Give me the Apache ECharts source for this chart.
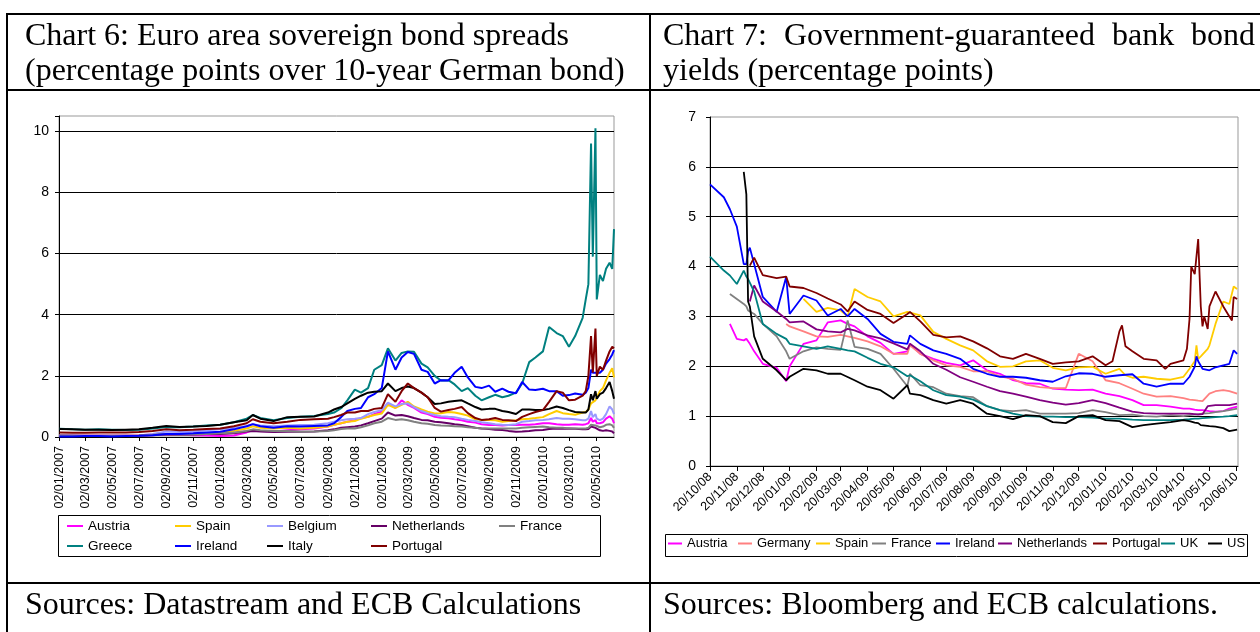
<!DOCTYPE html>
<html><head><meta charset="utf-8">
<script src="https://cdn.jsdelivr.net/npm/echarts@6/dist/echarts.min.js"></script>
<style>html,body{margin:0;padding:0;background:#fff}#c{width:1260px;height:632px}</style>
</head><body><div id="c"></div>
<script>
// ---------------- Chart 6 data: spreads over 10y Bund (pp) ----------------
const dates6 = [
 '2007-01-02','2007-02-01','2007-03-01','2007-04-01','2007-05-01','2007-06-01','2007-07-01','2007-08-01','2007-09-01','2007-10-01','2007-11-01','2007-12-01',
 '2008-01-01','2008-02-01','2008-03-01','2008-03-15','2008-04-01','2008-05-01','2008-06-01','2008-07-01','2008-08-01','2008-09-01','2008-09-15','2008-10-01','2008-10-15','2008-11-01','2008-11-15','2008-12-01','2008-12-15',
 '2009-01-01','2009-01-15','2009-02-01','2009-02-15','2009-03-01','2009-03-15','2009-04-01','2009-04-15','2009-05-01','2009-05-15','2009-06-01','2009-06-15','2009-07-01','2009-07-15','2009-08-01','2009-08-15','2009-09-01','2009-09-15','2009-10-01','2009-10-15','2009-11-01','2009-11-15','2009-12-01','2009-12-15',
 '2010-01-01','2010-01-15','2010-02-01','2010-02-15','2010-03-01','2010-03-15','2010-04-01','2010-04-08','2010-04-14','2010-04-20','2010-04-24','2010-04-30','2010-05-03','2010-05-10','2010-05-17','2010-05-24','2010-06-01','2010-06-07','2010-06-11'
];
const ticks6 = ['2007-01-02','2007-03-02','2007-05-02','2007-07-02','2007-09-02','2007-11-02','2008-01-02','2008-03-02','2008-05-02','2008-07-02','2008-09-02','2008-11-02','2009-01-02','2009-03-02','2009-05-02','2009-07-02','2009-09-02','2009-11-02','2010-01-02','2010-03-02','2010-05-02'];
const yTicks6 = [0, 2, 4, 6, 8, 10];

const austria6 = [
 0.06,0.05,0.05,0.05,0.05,0.05,0.06,0.08,0.10,0.08,0.06,0.05,
 0.03,0.05,0.15,0.22,0.20,0.18,0.22,0.25,0.28,0.34,0.40,0.45,0.50,0.55,0.62,0.66,0.75,
 0.83,1.10,0.95,1.20,1.05,0.95,0.80,0.75,0.66,0.63,0.61,0.58,0.55,0.50,0.47,0.42,0.39,0.39,0.38,0.39,0.39,0.40,0.40,0.42,
 0.45,0.45,0.42,0.40,0.40,0.42,0.40,0.42,0.45,0.62,0.50,0.55,0.45,0.45,0.48,0.60,0.68,0.60,0.45];
const spain6 = [
 0.04,0.04,0.04,0.04,0.04,0.04,0.05,0.07,0.10,0.10,0.10,0.12,
 0.15,0.20,0.28,0.35,0.30,0.28,0.30,0.28,0.30,0.34,0.40,0.45,0.50,0.52,0.60,0.66,0.72,
 0.77,1.05,0.95,1.05,1.15,1.00,0.90,0.83,0.77,0.78,0.82,0.80,0.75,0.70,0.58,0.56,0.56,0.55,0.50,0.52,0.55,0.58,0.60,0.62,
 0.65,0.75,0.85,0.78,0.75,0.73,0.80,0.82,0.90,1.10,1.05,1.20,1.25,1.50,1.60,1.85,2.10,2.25,1.95];
const belgium6 = [
 0.05,0.05,0.04,0.04,0.04,0.04,0.05,0.10,0.18,0.16,0.18,0.22,
 0.25,0.30,0.35,0.42,0.38,0.35,0.38,0.39,0.40,0.45,0.50,0.55,0.58,0.60,0.62,0.75,0.82,
 0.88,1.12,1.00,1.08,1.10,0.98,0.85,0.78,0.72,0.68,0.66,0.65,0.60,0.56,0.52,0.48,0.45,0.42,0.40,0.39,0.42,0.50,0.52,0.55,
 0.56,0.58,0.62,0.60,0.60,0.58,0.55,0.55,0.60,0.85,0.65,0.75,0.60,0.55,0.60,0.75,1.00,0.90,0.75];
const netherlands6 = [
 0.04,0.04,0.03,0.03,0.03,0.03,0.04,0.06,0.08,0.07,0.08,0.10,
 0.10,0.12,0.18,0.20,0.18,0.16,0.17,0.17,0.18,0.22,0.25,0.30,0.32,0.34,0.38,0.45,0.52,
 0.60,0.80,0.70,0.72,0.68,0.62,0.56,0.55,0.50,0.48,0.45,0.42,0.39,0.35,0.30,0.28,0.26,0.24,0.23,0.20,0.17,0.18,0.20,0.22,
 0.23,0.26,0.28,0.27,0.28,0.27,0.25,0.25,0.26,0.34,0.28,0.30,0.25,0.22,0.20,0.22,0.20,0.18,0.12];
const france6 = [
 0.05,0.04,0.04,0.04,0.04,0.04,0.05,0.07,0.10,0.08,0.08,0.10,
 0.12,0.15,0.20,0.25,0.22,0.20,0.20,0.17,0.18,0.20,0.22,0.26,0.28,0.28,0.32,0.38,0.45,
 0.50,0.62,0.56,0.58,0.55,0.50,0.45,0.43,0.39,0.38,0.37,0.35,0.34,0.32,0.30,0.28,0.28,0.28,0.28,0.28,0.28,0.30,0.32,0.33,
 0.34,0.32,0.30,0.30,0.28,0.28,0.28,0.28,0.30,0.40,0.35,0.38,0.32,0.32,0.34,0.40,0.42,0.38,0.30];
const greece6 = [
 0.27,0.25,0.24,0.25,0.24,0.23,0.24,0.28,0.33,0.32,0.34,0.38,
 0.40,0.48,0.60,0.72,0.62,0.55,0.62,0.66,0.69,0.75,0.80,0.94,1.20,1.55,1.45,1.60,2.20,
 2.35,2.90,2.50,2.75,2.80,2.79,2.40,2.28,2.00,1.85,1.86,1.72,1.50,1.60,1.35,1.20,1.30,1.38,1.30,1.35,1.45,1.75,2.45,2.60,
 2.80,3.60,3.40,3.30,2.95,3.30,3.90,4.50,5.00,9.60,5.90,10.10,4.50,5.30,5.10,5.50,5.70,5.50,6.80];
const ireland6 = [
 0.02,0.02,0.03,0.03,0.02,0.03,0.04,0.06,0.10,0.10,0.12,0.15,
 0.17,0.25,0.35,0.42,0.35,0.30,0.35,0.34,0.36,0.38,0.45,0.65,0.85,0.92,0.95,1.30,1.40,
 1.60,2.80,2.20,2.60,2.78,2.72,2.20,2.13,1.75,1.86,1.85,2.10,2.30,1.95,1.64,1.60,1.68,1.48,1.58,1.48,1.43,1.80,1.55,1.54,
 1.58,1.50,1.50,1.35,1.37,1.42,1.38,1.45,1.60,2.20,2.10,2.10,2.08,2.10,2.20,2.40,2.55,2.70,2.84];
const italy6 = [
 0.26,0.25,0.24,0.24,0.23,0.24,0.25,0.30,0.36,0.33,0.34,0.36,
 0.40,0.48,0.55,0.72,0.60,0.52,0.65,0.66,0.67,0.80,0.90,0.98,1.10,1.25,1.35,1.45,1.48,
 1.50,1.75,1.50,1.60,1.65,1.60,1.45,1.30,1.08,1.10,1.15,1.18,1.20,1.10,0.98,0.90,0.92,0.92,0.85,0.82,0.75,0.90,0.90,0.88,
 0.88,0.92,1.00,0.95,0.88,0.82,0.80,0.80,0.90,1.40,1.20,1.50,1.25,1.40,1.45,1.60,1.80,1.50,1.25];
const portugal6 = [
 0.15,0.14,0.14,0.15,0.15,0.15,0.16,0.20,0.25,0.22,0.24,0.26,
 0.28,0.35,0.45,0.58,0.50,0.45,0.50,0.56,0.58,0.60,0.65,0.72,0.80,0.80,0.85,0.85,0.92,
 0.95,1.40,1.15,1.50,1.75,1.60,1.45,1.30,0.95,0.83,0.88,0.92,0.98,0.78,0.62,0.56,0.58,0.62,0.56,0.55,0.52,0.66,0.75,0.82,
 0.88,1.15,1.50,1.45,1.20,1.22,1.35,1.50,2.00,3.30,2.10,3.55,2.00,2.30,2.20,2.50,2.80,2.95,2.90];

// ---------------- Chart 7 data: government-guaranteed bank bond yields (pp) ----------------
const dates7 = [
 '2008-10-20','2008-11-05','2008-11-12','2008-11-20','2008-11-28','2008-12-01','2008-12-03','2008-12-05','2008-12-10','2008-12-20',
 '2009-01-05','2009-01-16','2009-01-20','2009-02-05','2009-02-20','2009-03-05','2009-03-20','2009-03-28','2009-04-05','2009-04-20',
 '2009-05-05','2009-05-20','2009-06-05','2009-06-08','2009-06-20','2009-07-05','2009-07-20','2009-08-05','2009-08-20','2009-09-05',
 '2009-09-20','2009-10-05','2009-10-20','2009-11-05','2009-11-20','2009-12-05','2009-12-20','2010-01-05','2010-01-20','2010-01-28',
 '2010-02-05','2010-02-08','2010-02-12','2010-02-20','2010-03-05','2010-03-20','2010-03-30','2010-04-05','2010-04-20','2010-04-24',
 '2010-04-27','2010-04-29','2010-05-03','2010-05-05','2010-05-07','2010-05-10','2010-05-12','2010-05-14','2010-05-18','2010-05-20',
 '2010-05-27','2010-06-05','2010-06-12','2010-06-15','2010-06-17','2010-06-21'
];
const ticks7 = ['2008-10-20','2008-11-20','2008-12-20','2009-01-20','2009-02-20','2009-03-20','2009-04-20','2009-05-20','2009-06-20','2009-07-20','2009-08-20','2009-09-20','2009-10-20','2009-11-20','2009-12-20','2010-01-20','2010-02-20','2010-03-20','2010-04-20','2010-05-20','2010-06-20'];

const austria7 = [
 null,null,2.85,2.55,2.52,2.55,2.50,2.45,2.30,2.05,
 1.97,1.70,2.00,2.45,2.52,2.88,2.92,2.85,2.80,2.60,
 2.47,2.25,2.30,2.45,2.25,2.15,2.07,2.02,2.12,1.92,
 1.85,1.72,1.66,1.65,1.55,1.53,1.52,1.53,1.45,null,
 1.40,null,null,1.32,1.22,1.22,null,1.19,1.15,null,
 1.15,null,1.13,null,1.12,null,1.12,null,null,1.10,
 1.09,1.10,1.15,null,null,1.19];
const germany7 = [
 null,null,null,null,null,null,null,null,null,null,
 null,2.85,2.80,2.70,2.60,2.59,2.63,null,2.57,2.50,
 2.40,2.25,2.25,2.42,2.25,2.12,2.02,1.99,1.90,1.90,
 1.80,1.75,1.63,1.58,1.56,1.56,2.25,2.10,1.72,null,
 1.66,null,null,1.55,1.45,1.39,null,1.40,1.36,null,
 1.33,null,1.32,null,1.31,null,1.30,null,null,1.45,
 1.50,1.52,1.50,null,null,1.45];
const spain7 = [
 null,null,null,null,null,null,null,null,null,null,
 null,null,null,3.35,3.09,3.17,3.12,3.00,3.55,3.39,
 3.30,3.00,3.09,null,3.02,2.69,2.55,2.42,2.32,2.10,
 1.99,2.00,2.10,2.12,1.97,1.92,1.98,1.99,1.85,null,
 1.95,null,1.82,1.77,1.79,1.75,null,1.73,1.79,1.88,
 1.95,null,2.10,2.42,2.15,2.20,null,null,2.35,2.42,
 2.85,3.30,3.25,null,3.60,3.55];
const france7 = [
 null,null,3.45,3.35,3.25,3.20,3.12,3.10,3.05,2.85,
 2.60,2.30,2.15,2.30,2.38,2.35,2.33,2.92,2.39,2.35,
 2.25,1.95,1.60,1.85,1.62,1.58,1.45,1.40,1.38,1.20,
 1.12,1.10,1.12,1.05,1.05,1.05,1.06,1.12,1.08,null,
 1.02,null,null,1.03,1.00,0.99,null,1.02,1.00,null,
 1.02,null,1.03,null,1.04,null,1.05,null,null,1.06,
 1.08,1.10,1.12,null,null,1.15];
const ireland7 = [
 5.65,5.39,5.15,4.80,4.05,4.05,4.30,4.38,4.05,3.39,
 3.09,3.79,3.05,3.42,3.32,3.02,3.15,3.00,3.15,2.95,
 2.65,2.49,2.45,2.62,2.45,2.32,2.25,2.15,1.95,1.85,
 1.79,1.79,1.77,1.72,1.69,1.80,1.86,1.85,1.79,null,
 1.82,null,null,1.84,1.65,1.59,null,1.65,1.65,null,
 1.79,null,1.99,2.20,2.10,null,1.95,null,null,1.92,
 1.98,2.02,2.05,null,2.32,2.25];
const netherlands7 = [
 null,null,null,null,null,null,null,3.30,3.62,3.30,
 3.10,2.95,2.88,2.90,2.74,2.70,2.68,2.75,2.72,2.62,
 2.56,2.46,2.34,2.45,2.30,2.05,1.93,1.78,1.69,1.59,
 1.50,1.45,1.39,1.32,1.27,1.23,1.26,1.32,1.26,null,
 1.17,null,null,1.09,1.06,1.05,null,1.05,1.05,null,
 1.05,null,1.04,null,1.03,null,1.04,null,1.20,1.21,
 1.22,1.22,1.22,null,null,1.25];
const portugal7 = [
 null,null,null,null,null,null,null,4.02,4.18,3.83,
 3.77,3.80,3.60,3.57,3.47,3.36,3.24,3.10,3.30,3.13,
 3.05,2.87,3.05,3.09,2.90,2.63,2.58,2.60,2.50,2.36,
 2.20,2.15,2.25,2.15,2.05,2.08,2.10,2.20,2.02,2.10,
 2.70,2.82,2.40,2.30,2.15,2.12,1.95,2.05,2.12,2.35,
 2.95,4.00,3.85,4.20,4.55,3.20,2.80,3.00,2.75,3.20,
 3.50,3.20,3.00,2.92,3.39,3.35];
const uk7 = [
 4.20,3.92,3.82,3.65,3.92,3.80,3.75,3.72,3.50,2.85,
 2.65,2.55,2.45,2.40,2.35,2.40,2.35,2.32,2.30,2.17,
 2.05,1.98,1.80,1.82,1.70,1.52,1.42,1.39,1.33,1.20,
 1.12,1.05,1.00,0.99,0.99,0.98,0.98,0.97,0.95,null,
 0.95,null,null,0.93,0.92,0.92,null,0.92,0.93,null,
 0.94,null,0.95,null,0.95,null,0.96,null,null,0.97,
 0.98,0.99,1.00,null,null,1.02];
const us7 = [
 null,null,null,null,5.90,5.45,3.30,3.20,2.60,2.15,
 1.92,1.72,1.79,1.95,1.92,1.85,1.85,null,1.72,1.59,
 1.52,1.35,1.62,1.45,1.42,1.32,1.25,1.32,1.25,1.05,
 1.00,0.94,1.02,1.00,0.88,0.86,1.00,1.02,0.92,null,
 0.90,null,null,0.78,0.82,0.85,null,0.88,0.92,null,
 0.90,null,0.87,null,0.86,0.82,null,null,null,0.80,
 0.79,0.76,0.70,null,null,0.73];

// ---------------- helpers ----------------
const ts = s => { const p = s.split('-').map(Number); return new Date(p[0], p[1] - 1, p[2]).getTime(); };
const pad = n => (n < 10 ? '0' : '') + n;
const fmt6 = v => { const d = new Date(v); return pad(d.getDate()) + '/' + pad(d.getMonth() + 1) + '/' + d.getFullYear(); };
const fmt7 = v => { const d = new Date(v); return pad(d.getDate()) + '/' + pad(d.getMonth() + 1) + '/' + String(d.getFullYear()).slice(2); };
const pairs = (dates, vals) => { const out = []; dates.forEach((d, i) => { if (vals[i] != null) out.push([ts(d), vals[i]]); }); return out; };

const FONT = 'Liberation Sans';
const SERIF = 'Liberation Serif';

const s6 = [
 ['Austria', austria6, '#FF00FF'], ['Spain', spain6, '#FFCC00'], ['Belgium', belgium6, '#9999FF'],
 ['Netherlands', netherlands6, '#660066'], ['France', france6, '#808080'], ['Greece', greece6, '#008080'],
 ['Ireland', ireland6, '#0000FF'], ['Italy', italy6, '#000000'], ['Portugal', portugal6, '#800000']];
const s7 = [
 ['Austria', austria7, '#FF00FF'], ['Germany', germany7, '#FF8080'], ['Spain', spain7, '#FFCC00'],
 ['France', france7, '#808080'], ['Ireland', ireland7, '#0000FF'], ['Netherlands', netherlands7, '#800080'],
 ['Portugal', portugal7, '#800000'], ['UK', uk7, '#008080'], ['US', us7, '#000000']];

const series = [];
s6.forEach(([n, v, c]) => series.push({ name: n, type: 'line', xAxisIndex: 0, yAxisIndex: 0, data: pairs(dates6, v),
  symbol: 'none', showSymbol: false, lineStyle: { color: c, width: 2 }, itemStyle: { color: c }, silent: true }));
s7.forEach(([n, v, c]) => series.push({ name: n, type: 'line', xAxisIndex: 1, yAxisIndex: 1, data: pairs(dates7, v),
  symbol: 'none', showSymbol: false, lineStyle: { color: c, width: 1.8 }, itemStyle: { color: c }, silent: true }));

// legend layout (positions of each entry)
const leg6Pos = [[67,527],[175,527],[267,527],[371,527],[499,527],[67,547],[175,547],[267,547],[371,547]];
const leg7Pos = [[668,545],[738,545],[816,545],[872,545],[936,545],[998,545],[1093,545],[1161,545],[1208,545]];
const legends = [];
s6.forEach(([n, v, c], i) => legends.push({ left: leg6Pos[i][0], top: leg6Pos[i][1] - 8, padding: 0, itemWidth: 16, itemHeight: 2, icon: 'rect',
  selectedMode: false, data: [{ name: n, icon: 'rect', itemStyle: { color: c } }],
  textStyle: { fontFamily: FONT, fontSize: 13.5, color: '#000' } }));
s7.forEach(([n, v, c], i) => legends.push({ left: leg7Pos[i][0], top: leg7Pos[i][1] - 8, padding: 0, itemWidth: 14, itemHeight: 2, icon: 'rect',
  selectedMode: false, data: [{ name: n, icon: 'rect', itemStyle: { color: c } }],
  textStyle: { fontFamily: FONT, fontSize: 13, color: '#000' } }));

const txt = (text, x, y, size, align) => ({ type: 'text', silent: true, z: 100,
  style: { text, x, y, fill: '#000', font: size + 'px "' + SERIF + '"', textAlign: align || 'left', align: align || 'left', textVerticalAlign: 'middle', verticalAlign: 'middle' } });
const ln = (x1, y1, x2, y2, w) => ({ type: 'line', silent: true, z: 100, shape: { x1, y1, x2, y2 }, style: { stroke: '#000', lineWidth: w || 2 } });

const graphic = [
 ln(7, 14, 1260, 14), ln(7, 90, 1260, 90), ln(7, 583, 1260, 583),
 ln(7, 13, 7, 632), ln(650, 13, 650, 632),
 txt('Chart 6: Euro area sovereign bond spreads', 25, 37, 32),
 txt('(percentage points over 10-year German bond)', 25, 72, 32),
 txt('Chart 7:', 663, 37, 32), txt('Government-guaranteed', 784, 37, 32), txt('bank', 1112, 37, 32), txt('bond', 1255, 37, 32, 'right'),
 txt('yields (percentage points)', 663, 72, 32),
 txt('Sources: Datastream and ECB Calculations', 25, 606, 32),
 txt('Sources: Bloomberg and ECB calculations.', 663, 606, 32),
 { type: 'rect', silent: true, z: 0, shape: { x: 58.5, y: 515.5, width: 542, height: 41 }, style: { fill: 'none', stroke: '#000', lineWidth: 1 } },
 { type: 'rect', silent: true, z: 0, shape: { x: 665.5, y: 534.5, width: 582, height: 22 }, style: { fill: 'none', stroke: '#000', lineWidth: 1 } }
];

const option = {
 animation: false,
 textStyle: { fontFamily: FONT },
 grid: [
  { left: 59, top: 116, width: 555, height: 321, show: true, borderColor: '#999', borderWidth: 1, backgroundColor: 'transparent' },
  { left: 710, top: 117, width: 528, height: 349, show: true, borderColor: '#999', borderWidth: 1, backgroundColor: 'transparent' }
 ],
 xAxis: [
  { type: 'value', gridIndex: 0, min: ts('2007-01-01'), max: ts('2010-06-11'), scale: true,
    axisLine: { show: true, onZero: false, lineStyle: { color: '#000', width: 1 } },
    axisTick: { show: true, customValues: ticks6.map(ts), length: 4, lineStyle: { color: '#000' } },
    axisLabel: { show: true, customValues: ticks6.map(ts), rotate: 90, formatter: fmt6, fontSize: 12.5, color: '#000', margin: 9, fontFamily: FONT },
    splitLine: { show: false } },
  { type: 'value', gridIndex: 1, min: ts('2008-10-20'), max: ts('2010-06-22'), scale: true,
    axisLine: { show: true, onZero: false, lineStyle: { color: '#000', width: 1 } },
    axisTick: { show: true, customValues: ticks7.map(ts), length: 5, lineStyle: { color: '#000' } },
    axisLabel: { show: true, customValues: ticks7.map(ts), rotate: 45, formatter: fmt7, fontSize: 12.5, color: '#000', margin: 9, fontFamily: FONT },
    splitLine: { show: false } }
 ],
 yAxis: [
  { type: 'value', gridIndex: 0, min: 0, max: 10.5, interval: 2,
    axisLine: { show: true, lineStyle: { color: '#000' } },
    axisTick: { show: true, length: 4, lineStyle: { color: '#000' } },
    axisLabel: { formatter: v => (yTicks6.indexOf(v) >= 0 ? String(v) : ''), fontSize: 14, color: '#000', margin: 10, fontFamily: FONT },
    splitLine: { show: true, showMaxLine: false, lineStyle: { color: ['#000','#000','#000','#000','#000','#000','#999'], width: 1 } } },
  { type: 'value', gridIndex: 1, min: 0, max: 7, interval: 1,
    axisLine: { show: true, lineStyle: { color: '#000' } },
    axisTick: { show: true, length: 4, lineStyle: { color: '#000' } },
    axisLabel: { fontSize: 14, color: '#000', margin: 14, fontFamily: FONT },
    splitLine: { show: true, showMaxLine: false, lineStyle: { color: ['#000','#000','#000','#000','#000','#000','#000','#999'], width: 1 } } }
 ],
 legend: legends,
 series: series,
 graphic: graphic
};

const chart = echarts.init(document.getElementById('c'), null, { renderer: 'canvas', width: 1260, height: 632 });
chart.setOption(option);
</script></body></html>
